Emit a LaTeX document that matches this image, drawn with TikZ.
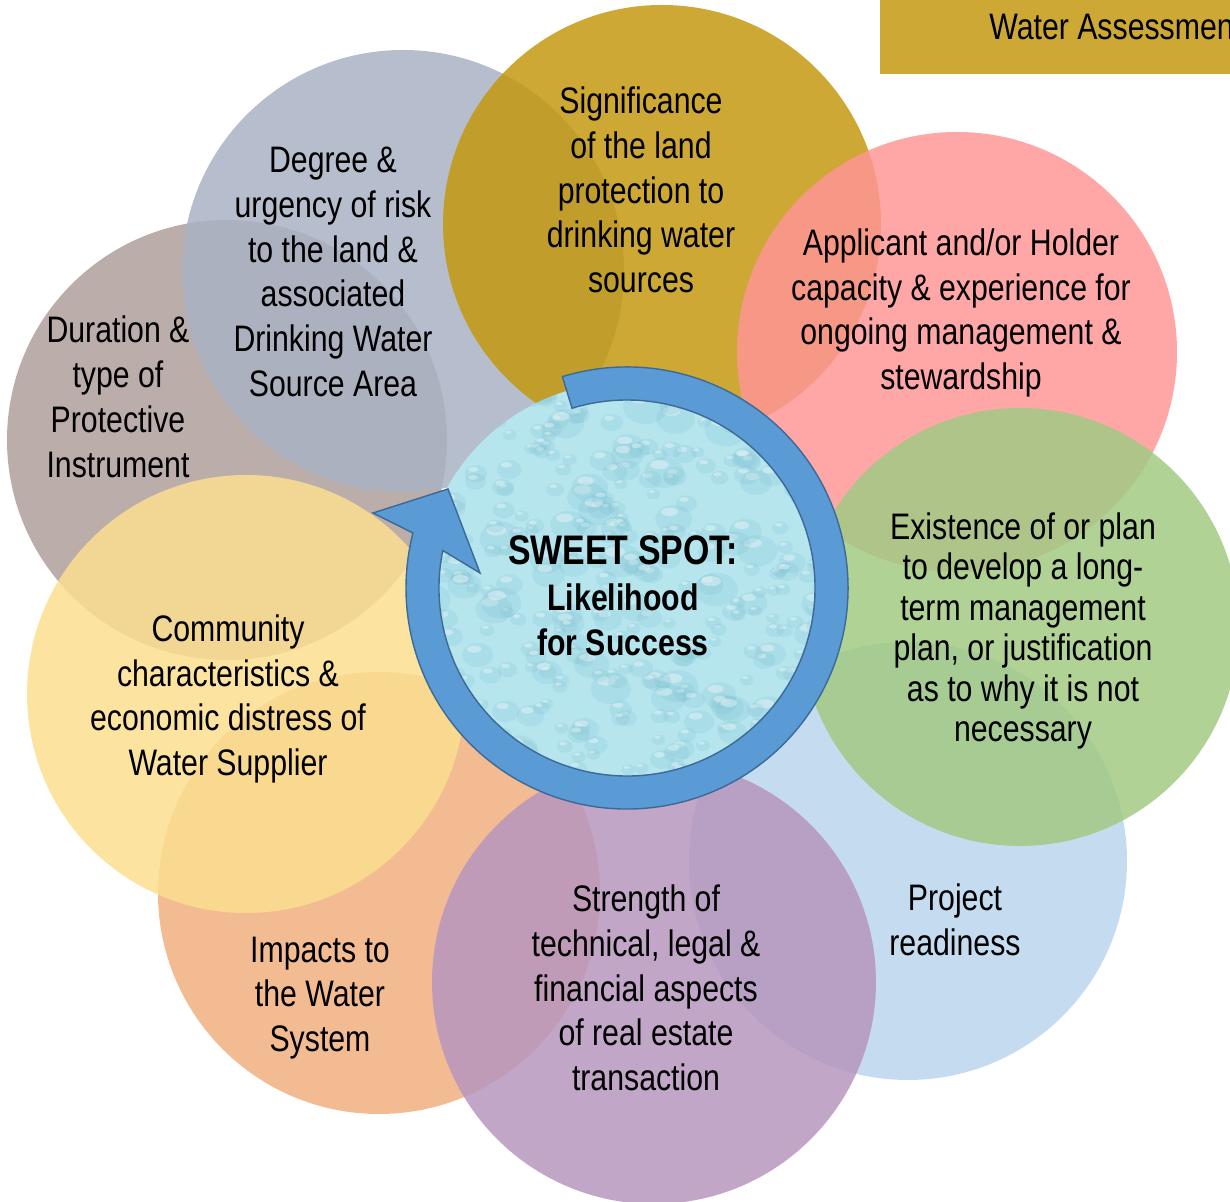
\documentclass[tikz,border=0pt]{standalone}
\usepackage{fontspec}
\setmainfont{Liberation Sans}[FakeStretch=0.82]
\definecolor{cDur}{RGB}{174,159,155}
\definecolor{cDeg}{RGB}{169,178,195}
\definecolor{cGold}{RGB}{196,153,16}
\definecolor{cPink}{RGB}{255,150,150}
\definecolor{cBlue}{RGB}{187,214,237}
\definecolor{cGreen}{RGB}{162,202,131}
\definecolor{cOrange}{RGB}{241,175,127}
\definecolor{cPurple}{RGB}{182,150,189}
\definecolor{cYellow}{RGB}{251,223,143}
\definecolor{cBox}{RGB}{205,168,52}
\definecolor{water}{RGB}{182,229,237}
\definecolor{dropd}{RGB}{120,190,208}
\definecolor{ringfill}{RGB}{91,155,213}
\definecolor{ringedge}{RGB}{60,105,150}
\begin{document}
\begin{tikzpicture}[x=0.02cm, y=0.02cm,
  bub/.style={fill opacity=0.85},
  lab/.style={align=center, inner sep=0pt, text=black, font=\fontsize{21pt}{25.5pt}\selectfont},
  labtight/.style={align=center, inner sep=0pt, text=black, font=\fontsize{21pt}{23pt}\selectfont},
  ring/.style={fill=ringfill, draw=ringedge, line width=0.8pt, line join=miter}]
\useasboundingbox (0,0) rectangle (1230,1202);
\clip (0,0) rectangle (1230,1202);
% petals
\fill[cDur, bub] (227,762) circle (220);
\fill[cDeg, bub] (403,931) circle (221);
\fill[cGold, bub] (662,978) circle (219);
\fill[cPink, bub] (957,850) circle (220);
\fill[cBlue, bub] (908,341) circle (219);
\fill[cGreen, bub] (1020,575) circle (219);
\fill[cOrange, bub] (379,309) circle (221);
\fill[cPurple, bub] (654,220) circle (222);
\fill[cYellow, bub] (246,508) circle (219);
% top-right box
\fill[cBox] (880,1128) rectangle (1240,1210);
\node[lab, anchor=base west] (wa) at (989,1162) {Water Assessment};
% water centre
\begin{scope}
\clip (627,614) circle (206);
\fill[water] (627,614) circle (206);
\pgfmathsetseed{12}
\foreach \i in {1,...,380}{
  \pgfmathsetmacro\px{421+412*rnd}
  \pgfmathsetmacro\py{408+412*rnd}
  \pgfmathsetmacro\rr{5+13*rnd*rnd}
  \fill[dropd, opacity=0.20] (\px,\py) ellipse ({\rr*1.3} and {\rr});
  \fill[white, opacity=0.35] (\px-0.3*\rr,\py+0.5*\rr) ellipse ({0.6*\rr} and {0.3*\rr});
}
\end{scope}
% circular arrow
\begin{scope}[shift={(627,614)}]
\filldraw[ring] (107:221) arc[start angle=107, end angle=-194.4, radius=221]
  -- (-254,75) -- (-179,99) -- (-147,15) -- (-191.5:188)
  arc[start angle=-191.5, end angle=107, radius=188] -- cycle;
\end{scope}
% labels
\node[lab] (deg) at (333,930) {Degree \&\\urgency of risk\\to the land \&\\associated\\Drinking Water\\Source Area};
\node[lab] (sig) at (641,1012) {Significance\\of the land\\protection to\\drinking water\\sources};
\node[lab] (app) at (961,889) {Applicant and/or Holder\\capacity \& experience for\\ongoing management \&\\stewardship};
\node[lab] (dur) at (118,805) {Duration \&\\type of\\Protective\\Instrument};
\node[labtight] (ext) at (1023,571) {Existence of or plan\\to develop a long-\\term management\\plan, or justification\\as to why it is not\\necessary};
\node[lab] (com) at (228,503) {Community\\characteristics \&\\economic distress of\\Water Supplier};
\node[lab] (prj) at (955,282) {Project\\readiness};
\node[lab] (str) at (646,214) {Strength of\\technical, legal \&\\financial aspects\\of real estate\\transaction};
\node[lab] (imp) at (320,204) {Impacts to\\the Water\\System};
\node[align=center, inner sep=0pt, font=\bfseries\fontsize{21pt}{26pt}\selectfont] (core) at (623,606)
  {{\fontsize{23.5pt}{27pt}\selectfont SWEET SPOT:}\\Likelihood\\for Success};
\end{tikzpicture}
\end{document}
